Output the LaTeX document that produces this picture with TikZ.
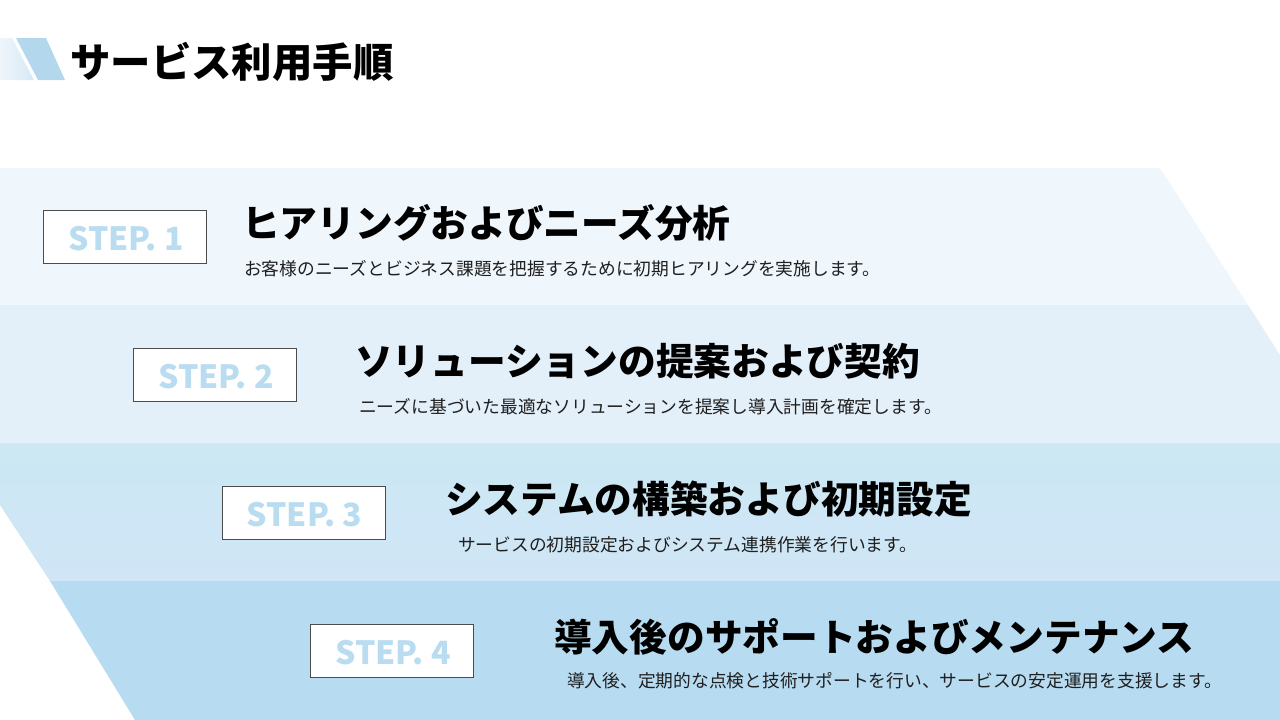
\documentclass[tikz,border=0pt]{standalone}
\usepackage{fontspec}
\setmainfont{Noto Sans CJK JP}
\begin{document}
\begin{tikzpicture}[x=1pt,y=-1pt,
  stepbox/.style={draw=black!70,line width=0.9pt,fill=white,minimum width=163pt,minimum height=53pt,inner sep=0pt},
  steptext/.style={text=stepblue,font=\bfseries\fontsize{32}{35}\selectfont,inner sep=0pt,anchor=base},
  headtext/.style={font=\bfseries\fontsize{37.7}{40}\selectfont,inner sep=0pt,anchor=base west},
  subtext/.style={text=black!88,font=\fontsize{17.75}{20}\selectfont,inner sep=0pt,anchor=base west}]
\definecolor{stepblue}{HTML}{B9DCF0}
\definecolor{bandA}{HTML}{EFF6FC}
\definecolor{bandB}{HTML}{E3EFF9}
\definecolor{bandCt}{HTML}{CBE8F3}
\definecolor{bandCb}{HTML}{D0E5F6}
\definecolor{bandD}{HTML}{B7DBF0}
\definecolor{decoDark}{HTML}{B3D8EE}
\definecolor{decoLight}{HTML}{D6E8F4}
\fill[white] (0,0) rectangle (1280,720);
\useasboundingbox (0,0) rectangle (1280,720);
% bands
\fill[bandA] (0,168) -- (1160,168) -- (1248,305) -- (0,305) -- cycle;
\fill[bandB] (0,305) -- (1248,305) -- (1280,355) -- (1280,443) -- (0,443) -- cycle;
\shade[top color=bandCt,bottom color=bandCb] (0,443) -- (1280,443) -- (1280,581) -- (50,581) -- (0,505) -- cycle;
\fill[bandD] (50,581) -- (1280,581) -- (1280,720) -- (135,720) -- cycle;
% title decoration
\shade[left color=decoLight!40,right color=decoLight] (0,38) -- (12,38) -- (34,80) -- (0,80) -- cycle;
\fill[decoDark] (16,38) -- (46,38) -- (65,80) -- (38,80) -- cycle;
\node[inner sep=0pt,anchor=base west,font=\bfseries\fontsize{40.4}{44}\selectfont] (title) at (70,77) {サービス利用手順};
% step boxes
\node[stepbox] (b1) at (125,236.5) {};
\node[stepbox] (b2) at (215,374.5) {};
\node[stepbox] (b3) at (303.5,512.5) {};
\node[stepbox] (b4) at (392,650.5) {};
\node[steptext] (t1) at (126,250) {STEP. 1};
\node[steptext] (t2) at (216,388) {STEP. 2};
\node[steptext] (t3) at (304.5,526) {STEP. 3};
\node[steptext] (t4) at (393,664) {STEP. 4};
% headings
\node[headtext] (h1) at (242,237) {ヒアリングおよびニーズ分析};
\node[headtext] (h2) at (355,375) {ソリューションの提案および契約};
\node[headtext] (h3) at (445,513) {システムの構築および初期設定};
\node[headtext] (h4) at (554,651) {導入後のサポートおよびメンテナンス};
% descriptions
\node[subtext] (d1) at (244,275) {お客様のニーズとビジネス課題を把握するために初期ヒアリングを実施します。};
\node[subtext] (d2) at (359,413) {ニーズに基づいた最適なソリューションを提案し導入計画を確定します。};
\node[subtext] (d3) at (458,551) {サービスの初期設定およびシステム連携作業を行います。};
\node[subtext] (d4) at (567,687) {導入後、定期的な点検と技術サポートを行い、サービスの安定運用を支援します。};
\end{tikzpicture}
\end{document}
